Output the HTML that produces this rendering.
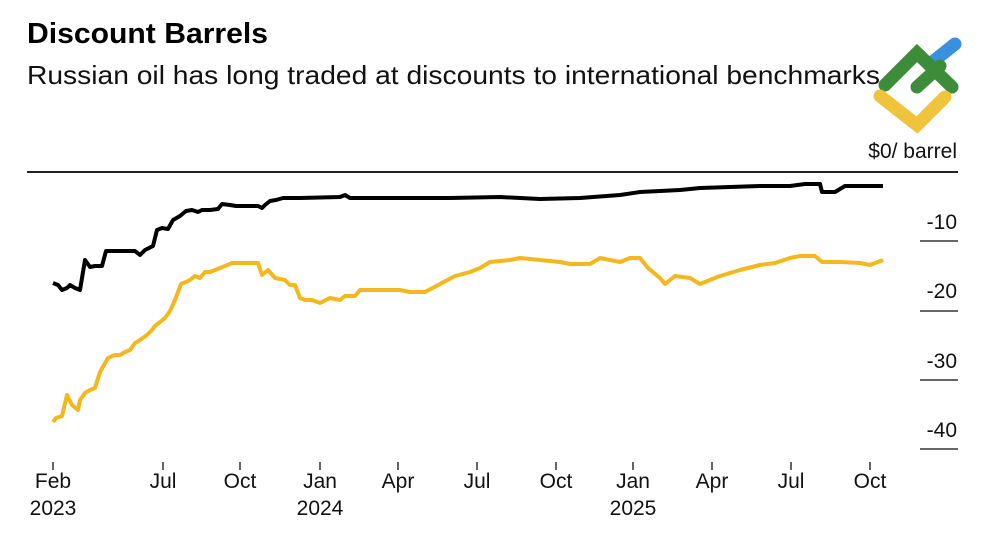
<!DOCTYPE html>
<html><head><meta charset="utf-8"><style>
body{margin:0;background:#fff;width:1000px;height:545px;overflow:hidden;font-family:"Liberation Sans",Arial,sans-serif}
</style></head><body>
<svg width="1000" height="545" xmlns="http://www.w3.org/2000/svg" font-family="Liberation Sans, Arial, sans-serif">
<text x="27" y="43" font-size="29" font-weight="bold" fill="#000" textLength="241" lengthAdjust="spacingAndGlyphs">Discount Barrels</text>
<text x="27" y="84" font-size="26" fill="#111" textLength="853" lengthAdjust="spacingAndGlyphs">Russian oil has long traded at discounts to international benchmarks</text>
<!-- logo -->
<g stroke-linecap="round" fill="none" stroke-width="13">
<line x1="930" y1="64" x2="955" y2="44" stroke="#3a8fde"/>
<polyline points="885,85 917,53 952,87" stroke="#3d8c3a"/>
<polyline points="917,87 940,66" stroke="#3d8c3a"/>
<polyline points="880,96 917,125 945,97" stroke="#f0c33c"/>
</g>
<text x="957" y="158" font-size="21" text-anchor="end" fill="#111">$0/ barrel</text>
<line x1="27" y1="172" x2="958" y2="172" stroke="#222" stroke-width="2"/>
<g font-size="21" fill="#111" text-anchor="end">
<text x="957" y="229">-10</text><text x="957" y="298">-20</text><text x="957" y="368">-30</text><text x="957" y="437">-40</text>
</g>
<g stroke="#333" stroke-width="1.5">
<line x1="920" y1="241" x2="958" y2="241"/><line x1="920" y1="311" x2="958" y2="311"/><line x1="920" y1="380" x2="958" y2="380"/><line x1="920" y1="449" x2="958" y2="449"/>
</g>
<g stroke="#333" stroke-width="1.5">
<line x1="53" y1="462" x2="53" y2="470"/><line x1="163" y1="462" x2="163" y2="470"/><line x1="240" y1="462" x2="240" y2="470"/><line x1="320" y1="462" x2="320" y2="470"/><line x1="398" y1="462" x2="398" y2="470"/><line x1="477" y1="462" x2="477" y2="470"/><line x1="556" y1="462" x2="556" y2="470"/><line x1="633" y1="462" x2="633" y2="470"/><line x1="712" y1="462" x2="712" y2="470"/><line x1="791" y1="462" x2="791" y2="470"/><line x1="870" y1="462" x2="870" y2="470"/>
</g>
<g font-size="21" fill="#111" text-anchor="middle">
<text x="53" y="488">Feb</text><text x="53" y="515">2023</text>
<text x="163" y="488">Jul</text><text x="240" y="488">Oct</text>
<text x="320" y="488">Jan</text><text x="320" y="515">2024</text>
<text x="398" y="488">Apr</text><text x="477" y="488">Jul</text><text x="556" y="488">Oct</text>
<text x="633" y="488">Jan</text><text x="633" y="515">2025</text>
<text x="712" y="488">Apr</text><text x="791" y="488">Jul</text><text x="870" y="488">Oct</text>
</g>
<polyline fill="none" stroke="#000" stroke-width="4" stroke-linejoin="round" points="53,283 58,285 62,290 67,288 70,285 75,288 80,290 85,260 90,267 95,266 102,266 106,251 112,251 120,251 128,251 135,251 140,255 145,250 153,246 157,230 162,228 168,229 173,220 180,216 186,211 192,210 198,212 202,210 210,210 218,209 222,204 230,205 236,206 243,206 252,206 258,206 262,208 265,205 270,201 276,200 283,198 300,198 340,197 345,195 350,198 400,198 450,198 500,197 540,199 580,198 620,195 640,192 680,190 700,188 730,187 760,186 790,186 805,184 820,184 822,192 835,192 845,186 860,186 883,186"/>
<polyline fill="none" stroke="#f4b71c" stroke-width="4" stroke-linejoin="round" points="53,422 56,418 62,416 67,395 72,405 78,410 80,400 85,393 90,390 95,388 100,372 108,358 115,355 120,355 125,352 130,350 135,343 140,340 147,335 152,330 155,326 160,322 165,318 170,311 175,300 181,284 186,282 190,280 195,276 200,278 205,272 210,272 215,270 225,266 232,263 245,263 258,263 262,275 268,270 275,278 285,280 290,285 295,285 300,298 305,300 312,300 320,303 330,298 340,300 345,296 355,296 360,290 380,290 400,290 410,292 425,292 440,284 455,276 470,272 480,268 490,262 510,260 520,258 540,260 560,262 570,264 590,264 600,258 620,262 630,258 640,258 648,268 660,278 665,284 675,276 690,278 700,284 720,276 740,270 760,265 775,263 790,258 800,256 815,256 822,262 840,262 860,263 870,265 883,260"/>
</svg>
</body></html>
